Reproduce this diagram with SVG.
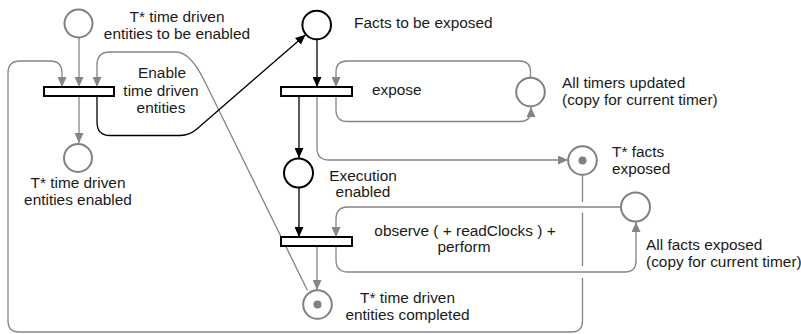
<svg xmlns="http://www.w3.org/2000/svg" width="801" height="334" viewBox="0 0 801 334">
<defs>
<style>
.g{fill:none;stroke:#858585;stroke-width:1.3}
.k{fill:none;stroke:#000;stroke-width:1.3}
.pg{fill:#fff;stroke:#808080;stroke-width:2}
.pk{fill:#fff;stroke:#000;stroke-width:2}
.bar{fill:#fff;stroke:#000;stroke-width:2}
.dot{fill:#808080}
text{font-family:"Liberation Sans",Arial,sans-serif;font-size:15.4px;fill:#1a1a1a}
.c{text-anchor:middle}
</style>
<marker id="ag" markerUnits="userSpaceOnUse" markerWidth="10" markerHeight="9" refX="10" refY="4.5" orient="auto"><path d="M0,0 L10,4.5 L0,9 z" fill="#858585"/></marker>
<marker id="ak" markerUnits="userSpaceOnUse" markerWidth="10" markerHeight="9" refX="10" refY="4.5" orient="auto"><path d="M0,0 L10,4.5 L0,9 z" fill="#000"/></marker>
</defs>
<rect width="801" height="334" fill="#fff"/>
<g id="connectors">
<path class="g" d="M79,38 L79,87" marker-end="url(#ag)"/>
<path class="g" d="M79,96 L79,143" marker-end="url(#ag)"/>
<path class="g" d="M582.5,175 L582.5,202 M582.5,212.5 L582.5,266 M582.5,278 L582.5,321 Q582.5,332 571.5,332 L19,332 Q8,332 8,321 L8,73 Q8,61 20,61 L50,61 Q62,61 62,73 L62,87" marker-end="url(#ag)"/>
<path class="g" d="M307.5,290.5 L204,80 Q190,52 176,52 L110,52 Q97,52 97,65 L97,87" marker-end="url(#ag)"/>
<path class="k" d="M97,96 L97,122 Q97,135.5 110,135.5 L180,135.5 Q190,135.5 198,128 L305.5,34.8" marker-end="url(#ak)"/>
<path class="k" d="M317,40 L317,87" marker-end="url(#ak)"/>
<path class="k" d="M299,96 L299,158" marker-end="url(#ak)"/>
<path class="g" d="M317,96 L317,148 Q317,160 329,160 L568,160" marker-end="url(#ag)"/>
<path class="g" d="M530.5,77.5 L530.5,72 Q530.5,61 519.5,61 L347,61 Q336,61 336,72 L336,87" marker-end="url(#ag)"/>
<path class="g" d="M336,96 L336,110 Q336,121.5 347.5,121.5 L520,121.5 Q531,121.5 531,111 L531,107" marker-end="url(#ag)"/>
<path class="k" d="M299,188 L299,237" marker-end="url(#ak)"/>
<path class="g" d="M621,207 L348,207 Q336,207 336,219 L336,237" marker-end="url(#ag)"/>
<path class="g" d="M336,246 L336,260 Q336,272 348,272 L625,272 Q636,272 636,261 L636,222" marker-end="url(#ag)"/>
<path class="g" d="M317,246 L317,290" marker-end="url(#ag)"/>
</g>
<g id="p-to-be-enabled"><circle class="pg" cx="78.5" cy="23.5" r="14"/>
<text class="c" x="177" y="21.5">T* time driven</text><text class="c" x="177" y="38.5">entities to be enabled</text></g>
<g id="t-enable"><rect class="bar" x="44" y="87" width="70" height="9"/>
<text class="c" x="162" y="78">Enable</text><text class="c" x="161" y="95.5">time driven</text><text class="c" x="161" y="113">entities</text></g>
<g id="p-enabled"><circle class="pg" cx="78" cy="158" r="14"/>
<text class="c" x="78" y="188">T* time driven</text><text class="c" x="78" y="205">entities enabled</text></g>
<g id="p-facts"><circle class="pk" cx="316.7" cy="25" r="14.3"/>
<text x="354" y="28">Facts to be exposed</text></g>
<g id="t-expose"><rect class="bar" x="281" y="87" width="71" height="9"/>
<text x="372" y="95">expose</text></g>
<g id="p-timers"><circle class="pg" cx="530.5" cy="92" r="14.3"/>
<text x="562" y="88">All timers updated</text><text x="562" y="105">(copy for current timer)</text></g>
<g id="p-facts-exposed"><circle class="pg" cx="582.5" cy="160.5" r="14.3"/><circle class="dot" cx="582.5" cy="160.5" r="4"/>
<text x="612" y="157">T* facts</text><text x="612" y="173.5">exposed</text></g>
<g id="p-execution"><circle class="pk" cx="298.5" cy="173" r="14.5"/>
<text class="c" x="363" y="181">Execution</text><text class="c" x="363" y="197">enabled</text></g>
<g id="t-observe"><rect class="bar" x="281" y="237" width="71" height="9"/>
<text class="c" x="465" y="236">observe ( + readClocks ) +</text><text class="c" x="464" y="252">perform</text></g>
<g id="p-all-facts"><circle class="pg" cx="635.5" cy="207" r="14.5"/>
<text x="646" y="250">All facts exposed</text><text x="646" y="267">(copy for current timer)</text></g>
<g id="p-completed"><circle class="pg" cx="317.5" cy="304.5" r="14.3"/><circle class="dot" cx="317.5" cy="304.5" r="4"/>
<text class="c" x="407.5" y="303">T* time driven</text><text class="c" x="407.5" y="320">entities completed</text></g>
</svg>
